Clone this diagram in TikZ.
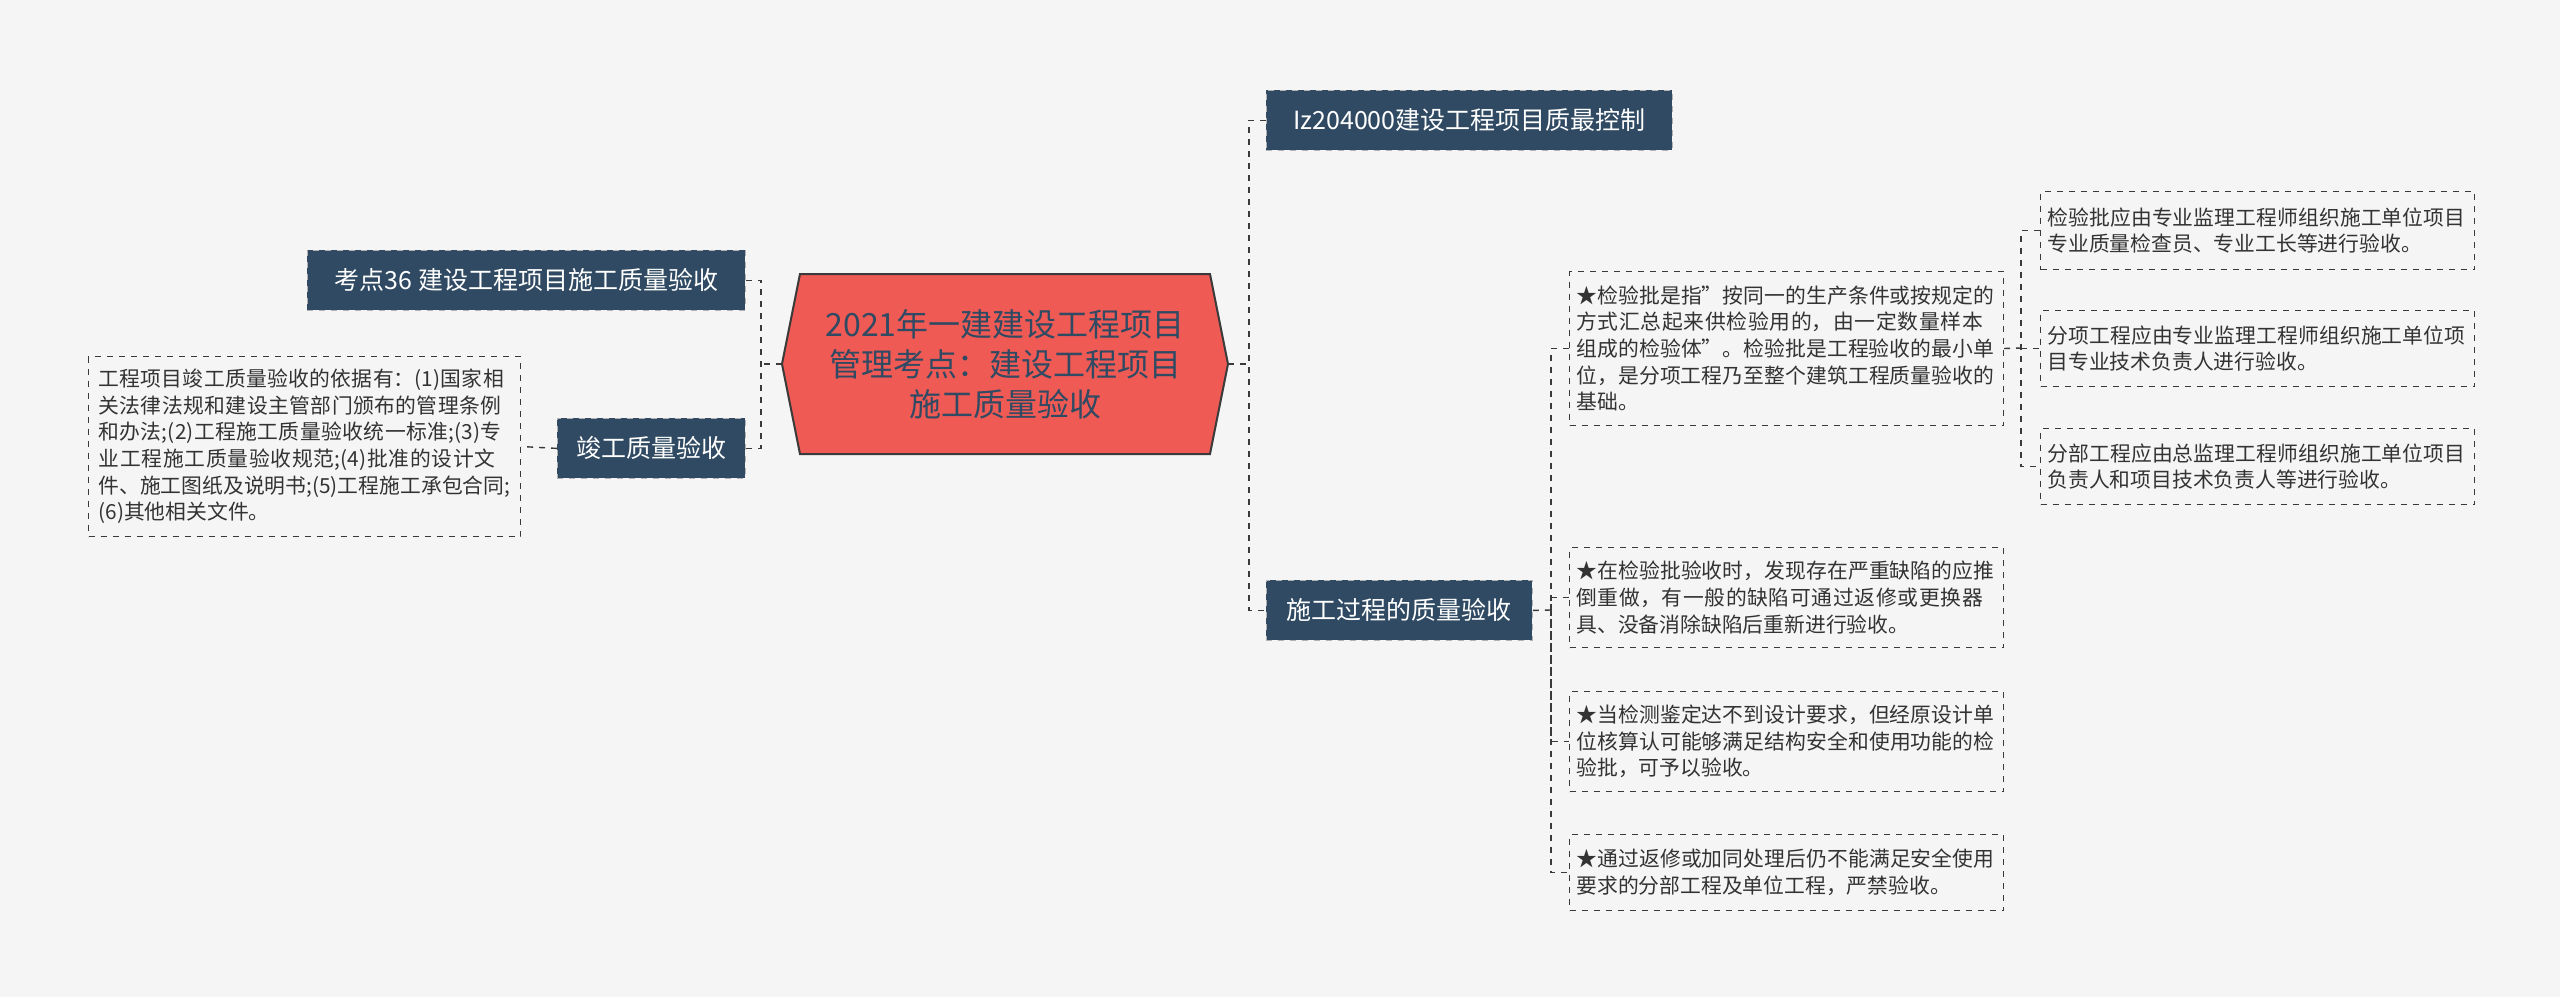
\documentclass[tikz,border=0pt]{standalone}
\usepackage{fontspec}
\setmainfont{Noto Sans CJK SC}
\XeTeXlinebreaklocale "zh"
\XeTeXlinebreakskip=0pt plus 1pt
\definecolor{bg}{HTML}{F5F5F5}
\definecolor{dk}{HTML}{2F4A62}
\definecolor{rd}{HTML}{F05A55}
\definecolor{ln}{HTML}{3A3A3A}
\begin{document}
\begin{tikzpicture}[x=0.5pt,y=-0.5pt,
 dark/.style={fill=dk,draw=gray!60,dashed,text=white,font=\fontsize{12.5}{14}\selectfont,inner sep=0pt,anchor=north west},
 tbox/.style={draw=ln,dashed,line width=0.5pt,text=black!80,font=\fontsize{10.4}{13.3}\selectfont,align=left,inner xsep=3pt,inner ysep=4pt,anchor=north west},
 conn/.style={draw=ln,dashed,line width=0.7pt}]
\fill[bg] (0,0) rectangle (2560,997);
\useasboundingbox (0,0) rectangle (2560,997);
% center
\draw[draw=ln,line width=1pt,fill=rd] (782,364) -- (800,274) -- (1210,274) -- (1228,364) -- (1210,454) -- (800,454) -- cycle;
\node[minimum width=223pt,minimum height=90pt,inner sep=0pt,align=center,font=\fontsize{16}{20}\selectfont,text=dk] (c) at (1005,364) {2021年一建建设工程项目\\管理考点：建设工程项目\\施工质量验收};
% left
\node[dark,minimum width=219pt,minimum height=30pt] (l1) at (307,250) {考点36 建设工程项目施工质量验收};
\node[dark,minimum width=94pt,minimum height=30pt] (l2) at (557,418) {竣工质量验收};
\node[tbox,minimum width=216pt,minimum height=90pt,text width=206pt] (l3) at (88,356) {工程项目竣工质量验收的依据有：(1)国家相关法律法规和建设主管部门颁布的管理条例和办法;(2)工程施工质量验收统一标准;(3)专业工程施工质量验收规范;(4)批准的设计文件、施工图纸及说明书;(5)工程施工承包合同;(6)其他相关文件。};
% right
\node[dark,minimum width=203pt,minimum height=30pt] (r1) at (1266,90) {Iz204000建设工程项目质最控制};
\node[dark,minimum width=133pt,minimum height=30pt] (r2) at (1266,580) {施工过程的质量验收};
\node[tbox,minimum width=217pt,minimum height=77pt,text width=210pt] (a) at (1569,271) {★检验批是指"按同一的生产条件或按规定的方式汇总起来供检验用的，由一定数量样本组成的检验体"。检验批是工程验收的最小单位，是分项工程乃至整个建筑工程质量验收的基础。};
\node[tbox,minimum width=217pt,minimum height=39pt,text width=210pt] (a1) at (2040,191) {检验批应由专业监理工程师组织施工单位项目专业质量检查员、专业工长等进行验收。};
\node[tbox,minimum width=217pt,minimum height=38pt,text width=210pt] (a2) at (2040,310) {分项工程应由专业监理工程师组织施工单位项目专业技术负责人进行验收。};
\node[tbox,minimum width=217pt,minimum height=38pt,text width=210pt] (a3) at (2040,428) {分部工程应由总监理工程师组织施工单位项目负责人和项目技术负责人等进行验收。};
\node[tbox,minimum width=217pt,minimum height=50pt,text width=210pt] (b) at (1569,547) {★在检验批验收时，发现存在严重缺陷的应推倒重做，有一般的缺陷可通过返修或更换器具、没备消除缺陷后重新进行验收。};
\node[tbox,minimum width=217pt,minimum height=50pt,text width=210pt] (b2) at (1569,691) {★当检测鉴定达不到设计要求，但经原设计单位核算认可能够满足结构安全和使用功能的检验批，可予以验收。};
\node[tbox,minimum width=217pt,minimum height=38pt,text width=210pt] (b3) at (1569,834) {★通过返修或加同处理后仍不能满足安全使用要求的分部工程及单位工程，严禁验收。};
% connectors
\draw[conn] (1228,364) -- (1249,364);
\draw[conn] (r1.west) -| (1249,364) |- (r2.west);
\draw[conn] (782,364) -- (761,364);
\draw[conn] (l1.east) -| (761,364) |- (l2.east);
\draw[conn] (l2.west) -- (l3.east);
\draw[conn] (r2.east) -- (1551,610);
\draw[conn] (a.west) -| (1551,610) |- (b3.west);
\draw[conn] (1551,610) |- (b.west);
\draw[conn] (1551,610) |- (b2.west);
\draw[conn] (a.east) -- (2021,348);
\draw[conn] (a1.west) -| (2021,348) |- (a3.west);
\draw[conn] (2021,348) |- (a2.west);
\end{tikzpicture}
\end{document}
